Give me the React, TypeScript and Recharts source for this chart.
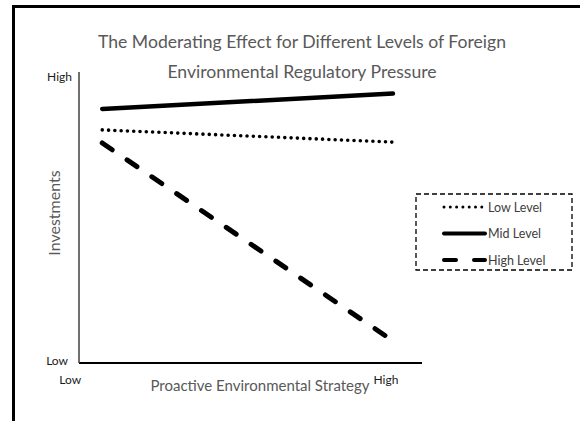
import {Label, Line, LineChart, XAxis, YAxis} from 'recharts';

const strategyLevels = [0, 1];
const lowLevel = [80.1, 75.9];
const midLevel = [87.3, 92.6];
const highLevel = [75.6, 7.6];
const tickLabels = ['Low', 'High'];
const seriesKeys = ['low', 'mid', 'high'];
const seriesNames = ['Low Level', 'Mid Level', 'High Level'];
const titleLines = [
  'The Moderating Effect for Different Levels of Foreign',
  'Environmental Regulatory Pressure',
];
const xTitle = 'Proactive Environmental Strategy';
const yTitle = 'Investments';

const data = strategyLevels.map((x, i) => ({
  x,
  low: lowLevel[i],
  mid: midLevel[i],
  high: highLevel[i],
}));

const font = 'Lato, "Open Sans", sans-serif';

const lineStyles: Record<string, any> = {
  low: {strokeWidth: 3.6, strokeDasharray: '0 6.3', strokeLinecap: 'round'},
  mid: {strokeWidth: 4.5, strokeLinecap: 'round'},
  high: {strokeWidth: 5, strokeDasharray: '12 18', strokeLinecap: 'round'},
};

function XTick(props: any) {
  const {x, y, payload, index} = props;
  const dx = index === 0 ? -32 : -7;
  return (
    <text x={x + dx} y={y + 21} textAnchor="middle" fontSize={12} fontFamily={font} fill="#1a1a1a">
      {tickLabels[index] ?? payload.value}
    </text>
  );
}

function YTick(props: any) {
  const {x, y, index} = props;
  const dx = index === 0 ? -11 : -7;
  const dy = index === 0 ? 2 : 9;
  return (
    <text x={x + dx} y={y + dy} textAnchor="end" fontSize={12} fontFamily={font} fill="#1a1a1a">
      {tickLabels[index]}
    </text>
  );
}

function XTitle(props: any) {
  const {viewBox} = props;
  return (
    <text x={viewBox.x + 181} y={viewBox.y + 28} textAnchor="middle" fontSize={15} fontFamily={font} fill="#595959">
      {xTitle}
    </text>
  );
}

function YTitle(props: any) {
  const {viewBox} = props;
  const cx = viewBox.x + viewBox.width - 26;
  const cy = 213;
  return (
    <text
      x={cx}
      y={cy}
      transform={`rotate(-90 ${cx} ${cy})`}
      textAnchor="middle"
      dominantBaseline="central"
      fontSize={16}
      fontFamily={font}
      fill="#595959"
    >
      {yTitle}
    </text>
  );
}

// legend box drawn outside the chart so it doesn't steal plot space
function LegendBox() {
  return (
    <svg width={158} height={78} style={{position: 'absolute', left: 415, top: 193}}>
      <rect x={1} y={1} width={156} height={76} fill="none" stroke="#000" strokeWidth={1.3} strokeDasharray="5 3" />
      {seriesKeys.map((key, i) => {
        const cy = 14 + i * 26.5;
        return (
          <g key={key}>
            <line x1={29} x2={70} y1={cy} y2={cy} stroke="#000" {...lineStyles[key]} strokeWidth={key === 'low' ? 3 : 4} />
            <text x={73} y={cy} dominantBaseline="central" fontSize={12.5} fontFamily={font} fill="#404040">
              {seriesNames[i]}
            </text>
          </g>
        );
      })}
    </svg>
  );
}

export default function App() {
  return (
    <div style={{position: 'absolute', left: 0, top: 0, width: 580, height: 421, overflow: 'hidden', background: '#fff'}}>
      <div
        style={{
          position: 'absolute',
          left: 12,
          top: 5,
          width: 700,
          height: 600,
          borderTop: '3px solid #000',
          borderLeft: '3px solid #000',
        }}
      />
      <div
        style={{
          position: 'absolute',
          left: 0,
          top: 27,
          width: 604,
          textAlign: 'center',
          fontFamily: font,
          fontSize: 17.6,
          lineHeight: '30px',
          color: '#595959',
        }}
      >
        {titleLines.map((t) => (
          <div key={t}>{t}</div>
        ))}
      </div>
      <div style={{position: 'absolute', left: 0, top: 0}}>
        <LineChart width={580} height={421} data={data} margin={{top: 72, right: 158, bottom: 28, left: 19}}>
          <XAxis
            type="number"
            dataKey="x"
            domain={[-0.08, 1.1]}
            ticks={strategyLevels}
            interval={0}
            height={30}
            tickSize={0}
            tickMargin={0}
            tickLine={false}
            tick={<XTick />}
            axisLine={{stroke: '#000', strokeWidth: 2}}
          >
            <Label content={<XTitle />} />
          </XAxis>
          <YAxis
            type="number"
            domain={[0, 100]}
            ticks={[0, 100]}
            interval={0}
            width={60}
            tickSize={0}
            tickMargin={0}
            tickLine={false}
            tick={<YTick />}
            axisLine={{stroke: '#404040', strokeWidth: 1.5}}
          >
            <Label content={<YTitle />} />
          </YAxis>
          {seriesKeys.map((key, i) => (
            <Line
              key={key}
              type="linear"
              dataKey={key}
              name={seriesNames[i]}
              stroke="#000"
              dot={false}
              activeDot={false}
              isAnimationActive={false}
              {...lineStyles[key]}
            />
          ))}
        </LineChart>
      </div>
      <LegendBox />
    </div>
  );
}
